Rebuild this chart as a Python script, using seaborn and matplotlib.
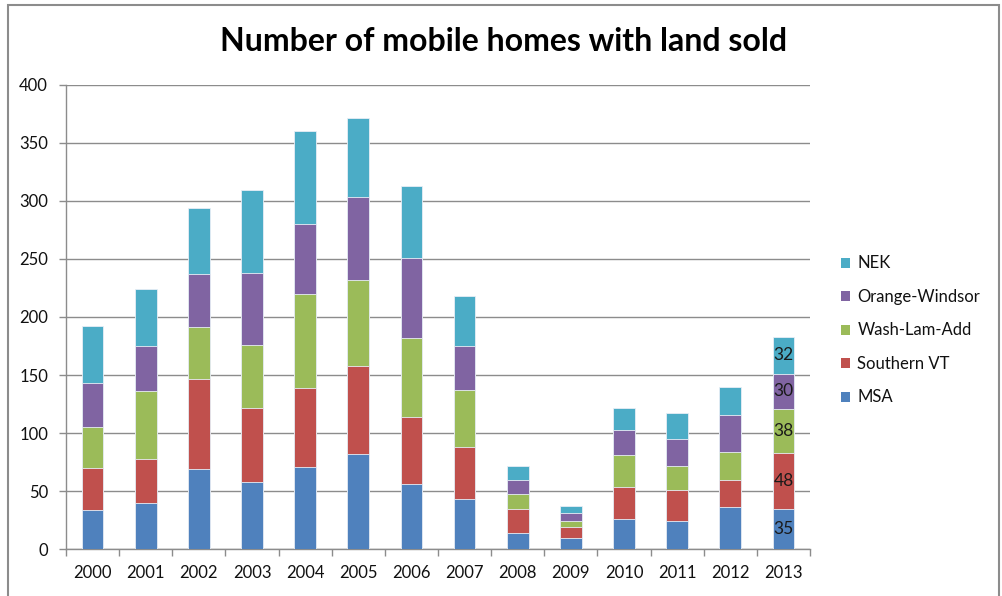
import numpy as np
import pandas as pd
import seaborn as sns
import matplotlib.pyplot as plt
from matplotlib.patches import Patch, Rectangle

years = [str(y) for y in range(2000, 2014)]
msa = [34, 40, 69, 58, 71, 82, 56, 43, 14, 10, 26, 24, 36, 35]
southern_vt = [36, 38, 78, 64, 68, 76, 58, 45, 21, 9, 28, 27, 24, 48]
wash_lam_add = [35, 58, 44, 54, 81, 74, 68, 49, 13, 5, 27, 21, 24, 38]
orange_windsor = [38, 39, 46, 62, 60, 71, 69, 38, 12, 7, 22, 23, 32, 30]
nek = [49, 49, 57, 71, 80, 68, 62, 43, 12, 6, 19, 22, 24, 32]

series = ["MSA", "Southern VT", "Wash-Lam-Add", "Orange-Windsor", "NEK"]
values = [msa, southern_vt, wash_lam_add, orange_windsor, nek]
colors = ["#4F81BD", "#C0504D", "#9BBB59", "#8064A2", "#4BACC6"]

df = pd.DataFrame({"year": years})
for name, vals in zip(series, values):
    df[name] = vals
cum = df[series].cumsum(axis=1)

sns.set_style("white")
plt.rcParams["font.family"] = ["Lato", "DejaVu Sans"]
plt.rcParams["text.color"] = "#111111"

fig = plt.figure(figsize=(10.02, 5.96), dpi=100)
ax = fig.add_axes([0.0659, 0.0784, 0.7425, 0.7795])

# stacked bars: draw cumulative totals from the top series down
for name, color in reversed(list(zip(series, colors))):
    sns.barplot(x=df["year"], y=cum[name], color=color, width=0.41,
                saturation=1, ax=ax, edgecolor="#e8eef6", linewidth=0.6, zorder=3)

# data labels for 2013
last = len(years) - 1
for i, name in enumerate(series):
    top = cum[name].iloc[last]
    val = df[name].iloc[last]
    ax.text(last, top - val / 2, str(val), ha="center", va="center",
            fontsize=12.5, color="#1a1a1a", zorder=4)

ax.set_ylim(0, 400)
ax.set_xlim(-0.5, len(years) - 0.5)
ax.set_yticks(np.arange(0, 401, 50))
ax.set_xticks(np.arange(-0.5, len(years), 1.0), minor=True)
ax.yaxis.grid(True, color="#8c8c8c", linewidth=1.0, zorder=0)
ax.set_axisbelow(True)
ax.set_xlabel("")
ax.set_ylabel("")
for s in ["top", "right"]:
    ax.spines[s].set_visible(False)
for s in ["left", "bottom"]:
    ax.spines[s].set_color("#8c8c8c")
    ax.spines[s].set_linewidth(1.0)
ax.tick_params(axis="y", length=5, width=1, color="#8c8c8c", pad=8,
               labelsize=12, labelcolor="#111111", left=True)
ax.tick_params(axis="x", which="major", length=0, pad=11, labelsize=12,
               labelcolor="#111111")
ax.tick_params(axis="x", which="minor", length=5, width=1, color="#8c8c8c",
               bottom=True)

fig.text(0.5025, 0.93, "Number of mobile homes with land sold",
         ha="center", va="center", fontsize=23, fontweight="bold", color="black")

handles = [Patch(facecolor=c, edgecolor="none") for c in reversed(colors)]
fig.legend(handles, list(reversed(series)), loc="center left",
           bbox_to_anchor=(0.839, 0.4455), bbox_transform=fig.transFigure,
           frameon=False, fontsize=12, handlelength=0.55, handleheight=0.55,
           handletextpad=0.45, labelspacing=1.05, borderpad=0, borderaxespad=0)

fig.patches.append(Rectangle((8 / 1002, -0.02), 991 / 1002, 1.02 - 5 / 596,
                             transform=fig.transFigure, fill=False,
                             edgecolor="#8c8c8c", linewidth=1.5))

fig.savefig("out.png", dpi=100)
